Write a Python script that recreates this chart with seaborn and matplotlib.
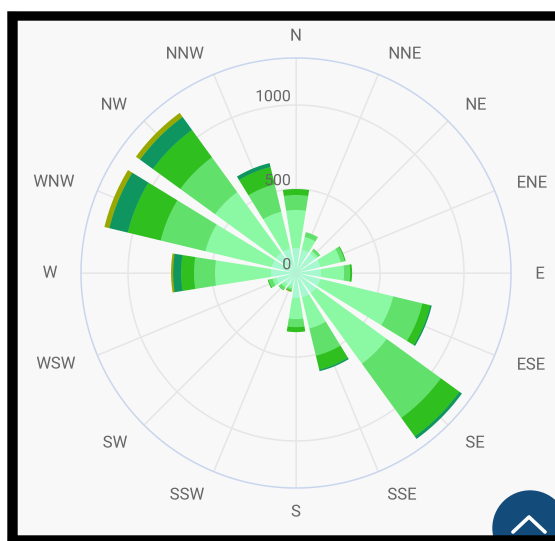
import io
import numpy as np
import pandas as pd
import matplotlib
matplotlib.use("Agg")
import matplotlib.pyplot as plt
from matplotlib.patches import Rectangle, Circle
import seaborn as sns

directions = ["N", "NNE", "NE", "ENE", "E", "ESE", "SE", "SSE",
              "S", "SSW", "SW", "WSW", "W", "WNW", "NW", "NNW"]
# Series are stacked from the centre outward, in the order below
band_pale = [149, 143, 143, 149, 149, 149, 149, 149, 149, 77, 83, 119, 149, 149, 149, 149]
band_light = [226, 77, 18, 125, 137, 446, 518, 190, 125, 18, 24, 24, 333, 405, 446, 226]
band_mid = [89, 30, 18, 24, 36, 179, 399, 167, 48, 12, 18, 24, 125, 274, 256, 167]
band_green = [36, 0, 0, 6, 12, 48, 137, 86, 30, 6, 3, 6, 77, 202, 202, 107]
band_teal = [0, 0, 0, 0, 0, 9, 18, 9, 0, 0, 0, 0, 48, 113, 95, 24]
band_olive = [0, 0, 0, 0, 0, 0, 0, 0, 0, 3, 0, 0, 12, 30, 30, 0]
series = [band_pale, band_light, band_mid, band_green, band_teal, band_olive]
colors = ["#a6f8cf", "#8bf9a4", "#62e06c", "#2fbf1f", "#0f9660", "#99a800"]
radial_ticks = [0, 500, 1000]
radial_max = 1280

W, H = 555, 541
sns.set_theme(style="white")
plt.rcParams["font.family"] = ["Roboto", "DejaVu Sans"]
fig = plt.figure(figsize=(W / 100, H / 100), dpi=100, facecolor="white")
fig.add_artist(Rectangle((0, 0), 1, 1, transform=fig.transFigure, color="#f8f8f8", zorder=-5))

ax = fig.add_axes([81 / W, (H - 488) / H, 430 / W, 430 / H], projection="polar")
ax.set_facecolor("none")
ax.set_axisbelow(True)

theta = np.deg2rad(np.arange(len(directions)) * 22.5)
base = np.zeros(len(directions))
# each band starts where the previous one ended, so no colour bleeds along the bar edges
for values, color in zip(series, colors):
    frame = pd.DataFrame({"theta": theta, "value": values})
    sns.barplot(data=frame, x="theta", y="value", native_scale=True, width=0.8,
                color=color, saturation=1, linewidth=0, edgecolor="none", bottom=base, ax=ax)
    base = base + np.array(values, dtype=float)

ax.set_theta_zero_location("N")
ax.set_theta_direction(-1)
ax.set_xlim(0, 2 * np.pi)
ax.set_ylim(0, radial_max)
ax.set_xlabel("")
ax.set_ylabel("")
ax.set_xticks(theta)
ax.set_xticklabels([])
ax.set_yticks(radial_ticks[1:])
ax.set_yticklabels([])
ax.grid(True, color="#e6e6e6", linewidth=1.1)
ax.tick_params(length=0)
ax.spines["polar"].set_color("#c9d6ee")
ax.spines["polar"].set_linewidth(1.1)

for v in radial_ticks:
    ax.annotate(str(v), xy=(0, v), xytext=(-3.6, 5.8), textcoords="offset points",
                ha="right", va="center", fontsize=11.5, color="#666666", zorder=10)

over = fig.add_axes([0, 0, 1, 1], zorder=5)
over.set_xlim(0, W)
over.set_ylim(H, 0)
over.axis("off")
over.patch.set_alpha(0)

label_x = [296, 405, 476, 532, 540, 531, 475, 402, 296, 187, 115, 56, 50, 54, 114, 185]
label_y = [36, 54, 105, 183, 274, 365, 443, 495, 512, 495, 443, 364, 273, 182, 105, 54]
for name, lx, ly in zip(directions, label_x, label_y):
    over.text(lx, ly, name, ha="center", va="center", fontsize=12, color="#666666")

over.add_patch(Circle((530, 528), 37, color="#134b7a", zorder=1))
over.plot([513, 529, 545], [532, 517, 532], color="white", lw=2.6, solid_capstyle="round", zorder=2)
over.add_patch(Rectangle((0, 0), 8, H, color="white", zorder=3))
over.add_patch(Rectangle((0, 0), W, 12, color="white", zorder=3))
over.add_patch(Rectangle((8, 12), 9, H - 12, color="black", zorder=4))
over.add_patch(Rectangle((8, 12), W - 8, 8, color="black", zorder=4))
over.add_patch(Rectangle((8, 536), W - 8, 5, color="black", zorder=4))

# render larger and average down: the bands' seams stay clean, as in a browser screenshot
factor = 3
buffer = io.BytesIO()
fig.savefig(buffer, dpi=100 * factor, format="png")
buffer.seek(0)
big = plt.imread(buffer)[:, :, :3]
small = big[:H * factor, :W * factor].reshape(H, factor, W, factor, 3).mean(axis=(1, 3))
plt.imsave("out.png", small)
